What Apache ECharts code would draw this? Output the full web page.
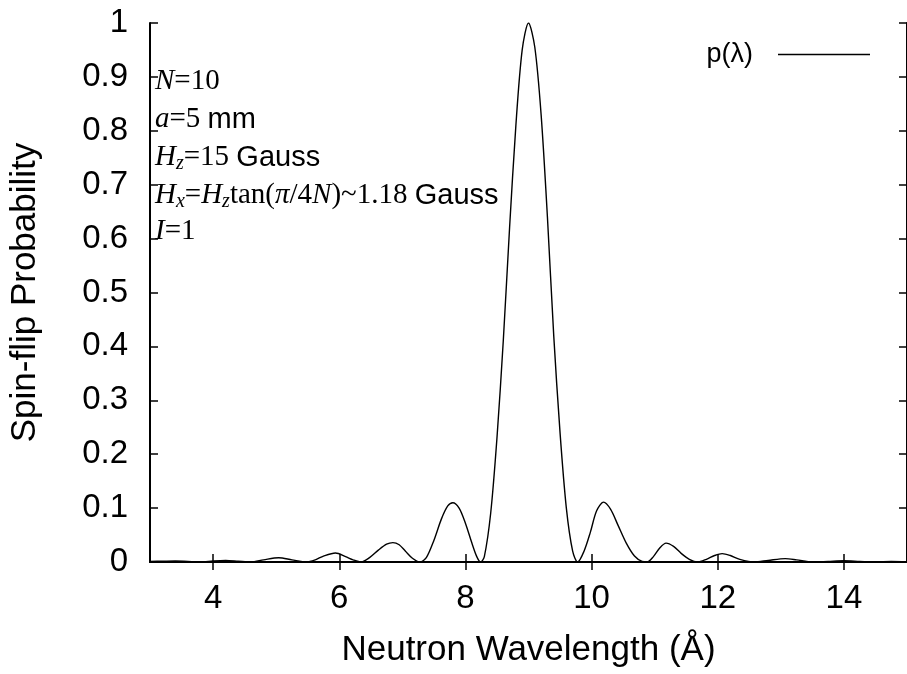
<!DOCTYPE html>
<html>
<head>
<meta charset="utf-8">
<script src="https://cdn.jsdelivr.net/npm/echarts@6/dist/echarts.min.js"></script>
<style>html,body{margin:0;padding:0;background:#fff}#c{width:907px;height:674px}</style>
</head>
<body>
<div id="c"></div>
<script>
const wavelength = [3.0,3.2,3.4,3.6,3.8,4.0,4.2,4.4,4.6,4.8,5.04,5.25,5.48,5.62,5.75,5.94,6.10,6.22,6.35,
  6.48,6.62,6.75,6.85,6.95,7.05,7.16,7.28,7.38,7.50,7.62,7.72,7.80,7.90,8.00,8.10,8.18,8.24,
  8.30,8.40,8.50,8.60,8.70,8.80,8.90,9.00,9.10,9.20,9.30,9.40,9.50,9.60,9.70,9.78,
  9.88,9.98,10.08,10.19,10.30,10.42,10.55,10.68,10.80,10.88,10.98,11.08,11.18,11.30,11.42,11.55,11.68,
  11.82,11.95,12.07,12.20,12.35,12.58,12.80,13.07,13.25,13.50,13.75,14.0,14.25,14.5,14.75,15.0];
const probability = [0.001,0.0015,0.002,0.001,0,0.002,0.003,0.0015,0,0.004,0.008,0.004,0,0.004,0.011,0.0167,0.010,0.004,0,
  0.008,0.022,0.033,0.036,0.032,0.02,0.007,0,0.008,0.04,0.08,0.104,0.110,0.100,0.072,0.036,0.01,0,
  0.01,0.09,0.23,0.41,0.62,0.81,0.95,1.0,0.955,0.83,0.64,0.42,0.24,0.10,0.02,0,
  0.02,0.055,0.095,0.111,0.098,0.068,0.035,0.011,0.001,0,0.01,0.026,0.035,0.029,0.016,0.005,0,
  0.005,0.012,0.0156,0.012,0.005,0,0.003,0.0063,0.004,0,0.0012,0.0025,0.0012,0,0.001,0.0005];
const xTicks = [4,6,8,10,12,14];
const seriesName = 'p(λ)';
const xTitle = 'Neutron Wavelength (Å)';
const yTitle = 'Spin-flip Probability';

const chart = echarts.init(document.getElementById('c'));
const sans = 'Liberation Sans';
const serif = 'Liberation Serif';
const richStyles = {
  v: {fontFamily: serif, fontStyle: 'italic', fontSize: 29, lineHeight: 32, verticalAlign: 'middle', fill: '#000'},
  s: {fontFamily: serif, fontSize: 29, lineHeight: 32, verticalAlign: 'middle', fill: '#000'},
  sub: {fontFamily: serif, fontStyle: 'italic', fontSize: 20, lineHeight: 20, verticalAlign: 'bottom', fill: '#000'},
  g: {fontFamily: sans, fontSize: 29, lineHeight: 32, verticalAlign: 'middle', fill: '#000'}
};
const annLines = [
  '{v|N}{s|=10}',
  '{v|a}{s|=5} {g|mm}',
  '{v|H}{sub|z}{s|=15} {g|Gauss}',
  '{v|H}{sub|x}{s|=}{v|H}{sub|z}{s|tan(}{v|π}{s|/4}{v|N}{s|)~1.18} {g|Gauss}',
  '{v|I}{s|=1}'
];
const annY = [83, 121, 159, 197, 233];

const axisCommon = {
  type: 'value',
  axisLine: {show: true, lineStyle: {color: '#000', width: 2}},
  splitLine: {show: false}
};

chart.setOption({
  animation: false,
  backgroundColor: '#fff',
  grid: {left: 150, top: 23, right: -7, bottom: 112, containLabel: false},
  legend: {
    data: [{name: seriesName, icon: 'rect'}],
    right: 32, top: 36, align: 'right',
    itemWidth: 92, itemHeight: 1.5,
    itemStyle: {color: '#000'},
    textStyle: {fontFamily: sans, fontSize: 27, color: '#000', padding: [0, 20, 0, 0]}
  },
  xAxis: [
    Object.assign({}, axisCommon, {
      position: 'bottom', min: 3, max: 15,
      name: xTitle, nameLocation: 'middle', nameGap: 71,
      nameTextStyle: {fontFamily: sans, fontSize: 35, color: '#000'},
      axisTick: {show: true, inside: true, length: 8, customValues: xTicks, lineStyle: {color: '#000', width: 1.5}},
      axisLabel: {show: true, margin: 20, customValues: xTicks, fontFamily: sans, fontSize: 33, color: '#000'}
    }),
    Object.assign({}, axisCommon, {
      position: 'top', min: 3, max: 15,
      axisTick: {show: true, inside: true, length: 8, customValues: xTicks, lineStyle: {color: '#000', width: 1.5}},
      axisLabel: {show: false}
    })
  ],
  yAxis: [
    Object.assign({}, axisCommon, {
      position: 'left', min: 0, max: 1, interval: 0.1,
      name: yTitle, nameLocation: 'middle', nameGap: 107, nameRotate: 90,
      nameTextStyle: {fontFamily: sans, fontSize: 35, color: '#000'},
      axisTick: {show: true, inside: true, length: 8, lineStyle: {color: '#000', width: 1.5}},
      axisLabel: {show: true, margin: 22, fontFamily: sans, fontSize: 33, color: '#000'}
    }),
    Object.assign({}, axisCommon, {
      position: 'right', min: 0, max: 1, interval: 0.1,
      axisTick: {show: true, inside: true, length: 8, lineStyle: {color: '#000', width: 1.5}},
      axisLabel: {show: false}
    })
  ],
  series: [{
    name: seriesName,
    type: 'line',
    data: wavelength.map((x, i) => [x, probability[i]]),
    showSymbol: false,
    smooth: 0.3,
    lineStyle: {color: '#000', width: 1.4},
    itemStyle: {color: '#000'}
  }],
  graphic: annLines.map((t, i) => ({
    type: 'text', left: 155, top: annY[i] - 16, z: 10,
    style: {text: t, rich: richStyles, fill: '#000', font: '29px ' + serif}
  }))
});
</script>
</body>
</html>
